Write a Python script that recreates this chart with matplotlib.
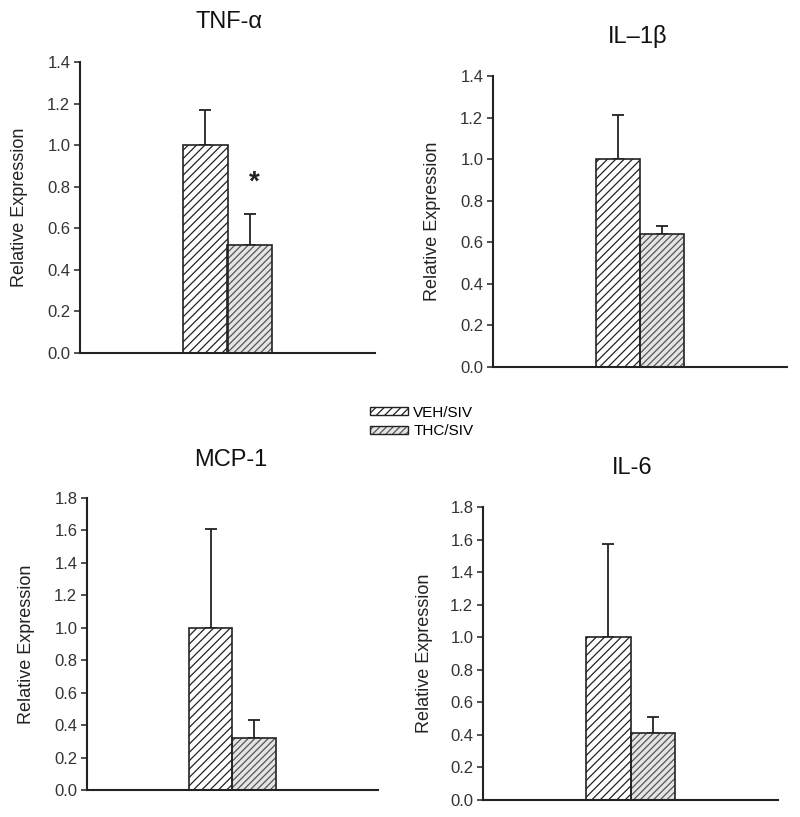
import matplotlib.pyplot as plt
from matplotlib.patches import Patch
from matplotlib.legend_handler import HandlerTuple
import numpy as np

plt.rcParams['font.family'] = ['Liberation Sans', 'DejaVu Sans']
plt.rcParams['hatch.linewidth'] = 0.9

groups = ["VEH/SIV", "THC/SIV"]
titles = ["TNF-\u03b1", "IL\u20131\u03b2", "MCP-1", "IL-6"]
means = [[1.00, 0.52], [1.00, 0.64], [1.00, 0.32], [1.00, 0.41]]
errs = [[0.17, 0.15], [0.21, 0.04], [0.61, 0.11], [0.57, 0.10]]
ymax = [1.4, 1.4, 1.8, 1.8]

# axes boxes in pixels: left, right, top(ylim max), bottom(y=0), title x, title y, ylabel x
boxes = [(80, 375, 62, 353, 229, 22, 20),
         (493, 787, 76, 367, 638, 37, 433),
         (87, 378, 498, 790, 231, 460, 27),
         (483, 778, 507, 800, 632, 468, 425)]

W, H = 800, 817
fig = plt.figure(figsize=(8, 8.17), dpi=100)

face = ['white', '#e4e4e4']
hatch_col = ['#222222', '#555555']
hatches = ['////', '/////']
for i in range(4):
    l, r, t, b, tx, ty, lx = boxes[i]
    ax = fig.add_axes([l / W, 1 - b / H, (r - l) / W, (b - t) / H])
    x = np.array([-0.5, 0.5])
    for j in range(2):
        ax.bar(x[j], means[i][j], width=1.0, color=face[j], edgecolor=hatch_col[j],
               hatch=hatches[j], linewidth=0, zorder=2)
        ax.bar(x[j], means[i][j], width=1.0, fill=False, edgecolor='#222222',
               linewidth=1.2, zorder=3)
        ax.errorbar(x[j], means[i][j], yerr=[[0], [errs[i][j]]], fmt='none',
                    ecolor='#222222', elinewidth=1.3, capsize=4, capthick=1.3, zorder=1)
    if i == 0:
        ax.text(x[1] + 0.1, means[0][1] + errs[0][1] + 0.15, "*", ha='center', va='center',
                fontsize=20, fontweight='bold', color='#222222')
    ax.set_xlim(-3.35, 3.35)
    ax.set_ylim(0, ymax[i])
    ticks = np.arange(0, ymax[i] + 0.01, 0.2)
    ax.set_yticks(ticks)
    ax.set_yticklabels(["%.1f" % v for v in ticks])
    ax.set_xticks([])
    for s in ['top', 'right']:
        ax.spines[s].set_visible(False)
    for s in ['left', 'bottom']:
        ax.spines[s].set_linewidth(1.5)
        ax.spines[s].set_color('#222222')
    ax.tick_params(axis='y', length=4, width=1.2, colors='#333333', labelsize=12, pad=3)
    ax.set_ylabel("Relative Expression", fontsize=13, color='#222222')
    ax.yaxis.set_label_coords((lx + 8 - l) / (r - l), 0.5)
    fig.text(tx / W, 1 - ty / H, titles[i], ha='center', va='center',
             fontsize=17, color='#111111')

handles = []
for j in range(2):
    h1 = Patch(facecolor=face[j], edgecolor=hatch_col[j], hatch=hatches[j], linewidth=0)
    h2 = Patch(fill=False, edgecolor='#222222', linewidth=1.0)
    handles.append((h1, h2))
fig.legend(handles, groups, loc='center left', bbox_to_anchor=(362 / W, 1 - 422 / H),
           frameon=False, fontsize=11, handlelength=2.5, handleheight=0.45,
           labelspacing=0.3, handletextpad=0.35, borderpad=0,
           handler_map={tuple: HandlerTuple(ndivide=1, pad=0)})

fig.savefig("out.png", dpi=100)
